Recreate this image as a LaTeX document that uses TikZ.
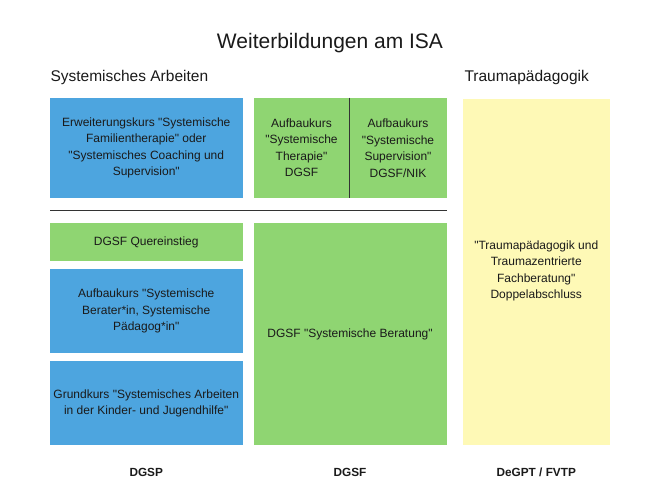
\documentclass[tikz,border=0pt]{standalone}
\usepackage{fontspec}
\setmainfont{Liberation Sans}[Ligatures=TeXOff]
\definecolor{boxblue}{HTML}{4DA5DF}
\definecolor{boxgreen}{HTML}{8FD572}
\definecolor{boxyellow}{HTML}{FEF9B6}
\definecolor{txt}{HTML}{1A1A1A}
\definecolor{rule}{HTML}{333333}
\begin{document}
\begin{tikzpicture}[x=1pt,y=-1pt,
  every node/.style={text=txt,inner sep=0pt,outer sep=0pt},
  boxbase/.style={minimum width=#1,align=center,font=\fontsize{12}{16.5}\selectfont},
  bluebox/.style={fill=boxblue},
  greenbox/.style={fill=boxgreen},
  yellowbox/.style={fill=boxyellow},
  heading/.style={font=\fontsize{15.5}{18}\selectfont},
  bottomlabel/.style={font=\fontsize{11.8}{14}\selectfont\bfseries},
  divider/.style={draw=rule,line width=1.3pt}]
\useasboundingbox (0,0) rectangle (660,495);
% title & headings
\node (title) at (330,43.5) {\fontsize{21}{25}\selectfont Weiterbildungen am ISA};
\node[heading,anchor=west] (hsys) at (50.5,77.5) {Systemisches Arbeiten};
\node[heading,anchor=west] (htrauma) at (464.5,77.5) {Traumapädagogik};
% boxes (fills)
\fill[bluebox] (50,97.5) rectangle (242.5,197.5);
\fill[greenbox] (253.5,97.5) rectangle (446.5,197.5);
\fill[greenbox] (50,222.5) rectangle (242.5,261);
\fill[bluebox] (50,269) rectangle (242.5,352.5);
\fill[bluebox] (50,360.5) rectangle (242.5,445);
\fill[greenbox] (253.5,222.5) rectangle (446.5,445);
\fill[yellowbox] (462.5,98.5) rectangle (610,445);
% lines
\coordinate (vtop) at (349.5,97.5);
\coordinate (vbot) at (349.5,197.5);
\draw[rule,line width=1.2pt] (vtop) -- (vbot);
\coordinate (hl) at (50,210.5);
\coordinate (hr) at (446.5,210.5);
\draw[divider] (hl) -- (hr);
% texts
\node[boxbase=190pt] (erw) at (146.25,148) {Erweiterungskurs "Systemische\\Familientherapie" oder\\"Systemisches Coaching und\\Supervision"};
\node[boxbase=96pt] (aufther) at (301.5,147.5) {Aufbaukurs\\"Systemische\\Therapie"\\DGSF};
\node[boxbase=96pt] (aufsup) at (398,148) {Aufbaukurs\\"Systemische\\Supervision"\\DGSF/NIK};
\node[boxbase=190pt] (quer) at (146.25,242) {DGSF Quereinstieg};
\node[boxbase=190pt] (aufber) at (146.25,311) {Aufbaukurs "Systemische\\Berater*in, Systemische\\Pädagog*in"};
\node[boxbase=190pt] (grund) at (146.25,403.5) {Grundkurs "Systemisches Arbeiten\\in der Kinder- und Jugendhilfe"};
\node[boxbase=190pt] (beratung) at (350,334) {DGSF "Systemische Beratung"};
\node[boxbase=145pt] (trauma) at (536.25,271) {"Traumapädagogik und\\Traumazentrierte\\Fachberatung"\\Doppelabschluss};
% bottom labels
\node[bottomlabel] (dgsp) at (146.25,472) {DGSP};
\node[bottomlabel] (dgsf) at (350,472) {DGSF};
\node[bottomlabel] (degpt) at (536.25,472) {DeGPT / FVTP};
\end{tikzpicture}
\end{document}
